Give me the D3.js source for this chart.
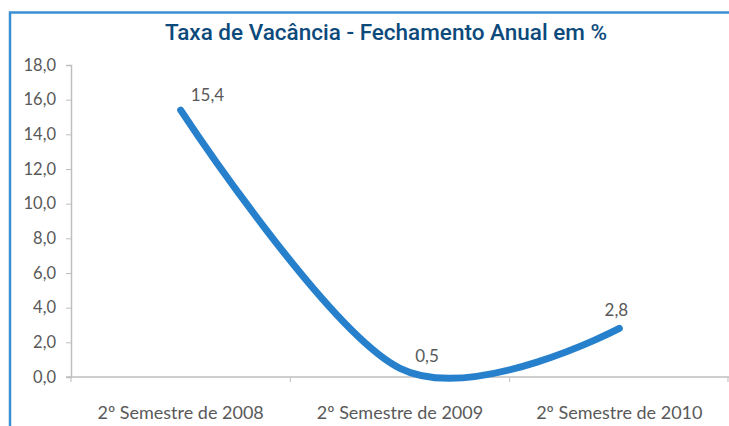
<!DOCTYPE html>
<html>
<head>
<meta charset="utf-8">
<script src="https://cdn.jsdelivr.net/npm/d3@7"></script>
<style>
  body { margin: 0; background: #fff; }
  svg { display: block; }
</style>
</head>
<body>
<div id="chart"></div>
<script>
// data
const categories = ["2º Semestre de 2008", "2º Semestre de 2009", "2º Semestre de 2010"];
const values = [15.4, 0.5, 2.8];
const yTicks = [0, 2, 4, 6, 8, 10, 12, 14, 16, 18];
const title = "Taxa de Vacância - Fechamento Anual em %";

const W = 729, H = 426;
const margin = { top: 65, right: 0, bottom: 49, left: 71 };

const svg = d3.select("#chart").append("svg")
  .attr("width", W)
  .attr("height", H);

// frame (left and top border in blue)
svg.append("path")
  .attr("d", `M10,${H} L10,12.5 L${W},12.5`)
  .attr("fill", "none")
  .attr("stroke", "#3d8fd4")
  .attr("stroke-width", 2.5);

svg.append("text")
  .attr("x", 386)
  .attr("y", 40)
  .attr("text-anchor", "middle")
  .attr("font-family", "Roboto")
  .attr("font-weight", 500)
  .attr("font-size", 22.5)
  .attr("fill", "#0d4a7c")
  .text(title);

const x = d3.scaleBand()
  .domain(categories)
  .range([margin.left, W - margin.right]);

const y = d3.scaleLinear()
  .domain([0, 18])
  .range([H - margin.bottom, margin.top]);

const fmt = v => d3.format(".1f")(v).replace(".", ",");

// y axis
const yAxis = svg.append("g")
  .attr("transform", `translate(${margin.left},0)`)
  .call(d3.axisLeft(y).tickValues(yTicks).tickSize(5).tickPadding(10).tickFormat(fmt));

// x axis
const xAxis = svg.append("g")
  .attr("transform", `translate(0,${y(0)})`)
  .call(d3.axisBottom(x).tickSize(0).tickPadding(29));

// category boundary ticks
xAxis.selectAll(".bound")
  .data(d3.range(categories.length + 1))
  .enter().append("line")
  .attr("class", "bound")
  .attr("x1", i => margin.left + i * x.bandwidth() - (i === categories.length ? 1 : 0))
  .attr("x2", i => margin.left + i * x.bandwidth() - (i === categories.length ? 1 : 0))
  .attr("y1", 0)
  .attr("y2", 5)
  .attr("stroke", "#bfbfbf");

svg.selectAll(".domain").attr("stroke", "#bfbfbf").attr("stroke-width", 1.5);
yAxis.selectAll(".tick line").attr("stroke", "#bfbfbf");
svg.selectAll(".tick text")
  .attr("font-family", "Lato")
  .attr("font-size", 16.5)
  .attr("fill", "#595959");
xAxis.selectAll(".tick text").attr("font-size", 18);
xAxis.selectAll(".domain").attr("d", `M${margin.left - 5},0H${W}`);

// smoothed line
const line = d3.line()
  .x((d, i) => x(categories[i]) + x.bandwidth() / 2)
  .y(d => y(d))
  .curve(d3.curveCardinal.tension(0));

svg.append("path")
  .datum(values)
  .attr("d", line)
  .attr("fill", "none")
  .attr("stroke", "#2680cc")
  .attr("stroke-width", 7)
  .attr("stroke-linecap", "round");

// data labels
const labelShift = [[10, -9, "start"], [27, -6, "middle"], [-3, -12, "middle"]];
svg.selectAll(".lbl")
  .data(values)
  .enter().append("text")
  .attr("class", "lbl")
  .attr("x", (d, i) => x(categories[i]) + x.bandwidth() / 2 + labelShift[i][0])
  .attr("y", (d, i) => y(d) + labelShift[i][1])
  .attr("text-anchor", (d, i) => labelShift[i][2])
  .attr("font-family", "Lato")
  .attr("font-size", 17)
  .attr("fill", "#595959")
  .text(fmt);
</script>
</body>
</html>
